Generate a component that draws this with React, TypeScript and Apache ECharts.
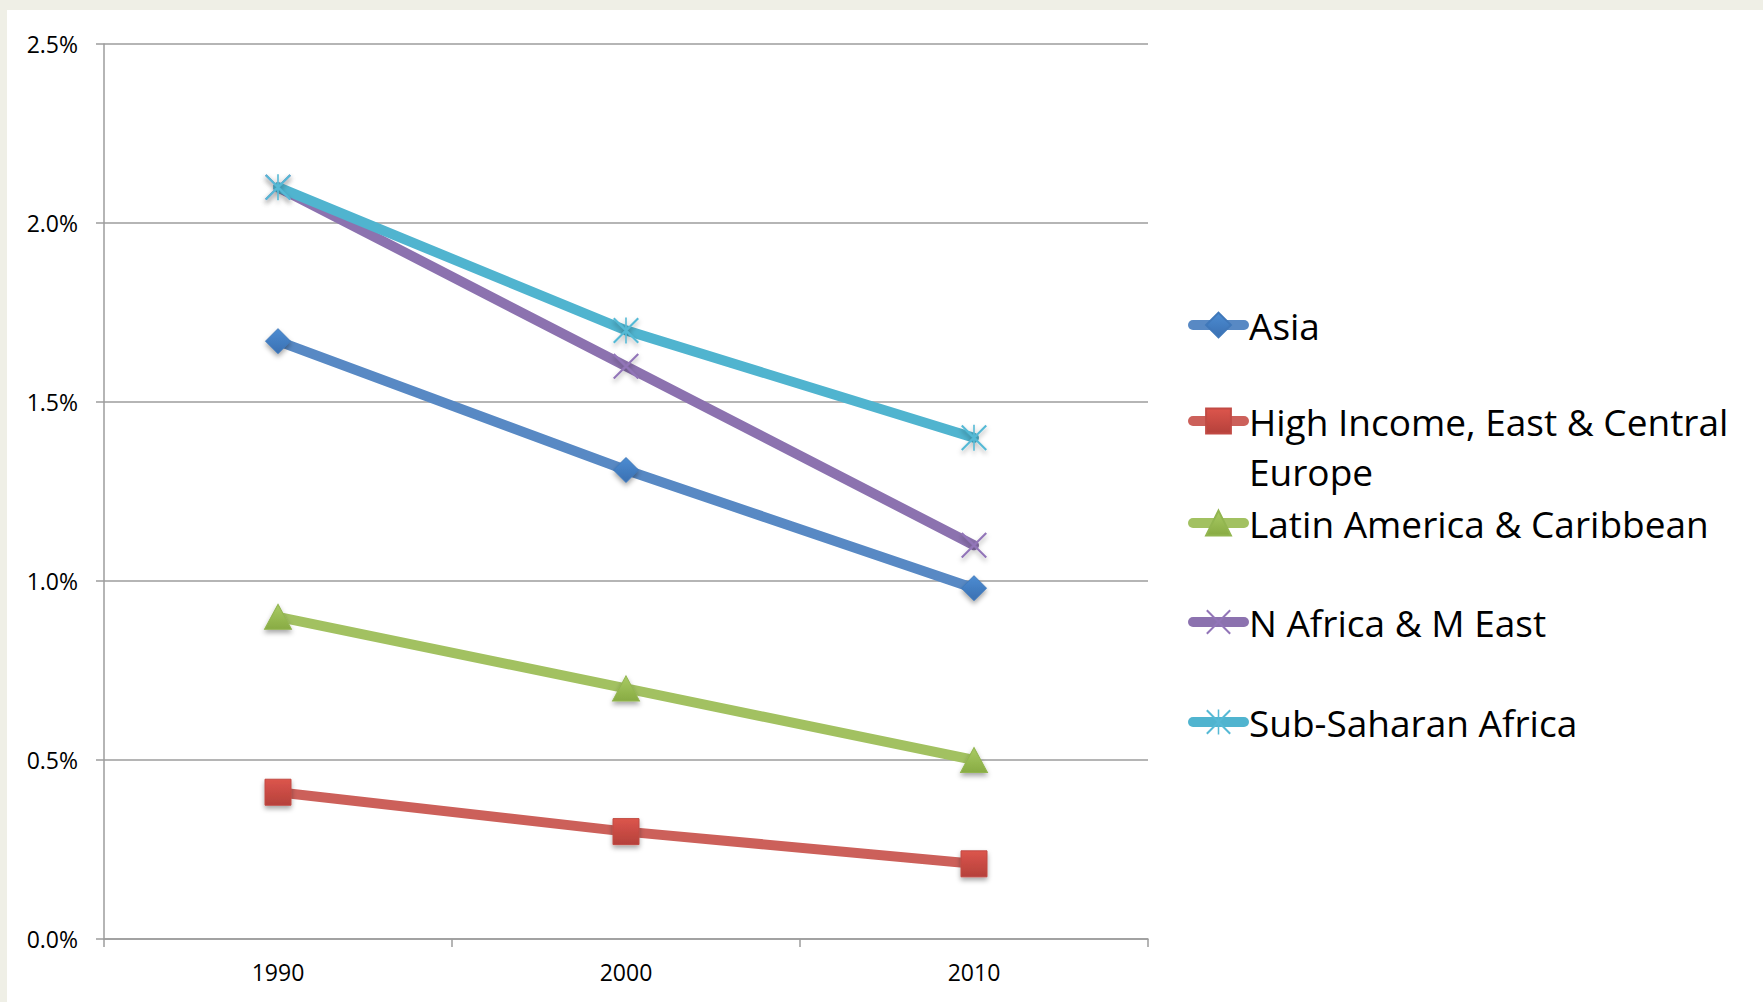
import React, { useEffect, useRef } from "react";
import * as echarts from "echarts";

// Annual rates by region, in percent
const years = ["1990", "2000", "2010"];
const seriesNames = [
  "Asia",
  "High Income, East & Central Europe",
  "Latin America & Caribbean",
  "N Africa & M East",
  "Sub-Saharan Africa",
];
const asia = [1.67, 1.31, 0.98];
const highIncomeEurope = [0.41, 0.3, 0.21];
const latinAmerica = [0.9, 0.7, 0.5];
const nAfricaMEast = [2.1, 1.6, 1.1];
const subSaharanAfrica = [2.1, 1.7, 1.4];
const yTickValues = [0, 0.5, 1.0, 1.5, 2.0, 2.5];

const FONT = "'Open Sans', 'Noto Sans', sans-serif";

// Thin-stroke marker shapes drawn as filled outlines
const crossSymbol =
  "path://M0,1.5L1.5,0L26,24.5L24.5,26Z M24.5,0L26,1.5L1.5,26L0,24.5Z";
const starSymbol =
  "path://M0,1.5L1.5,0L26,24.5L24.5,26Z M24.5,0L26,1.5L1.5,26L0,24.5Z M12.2,0L13.8,0L13.8,26L12.2,26Z";

const grad = (top: string, bottom: string) => ({
  type: "linear",
  x: 0,
  y: 0,
  x2: 0,
  y2: 1,
  colorStops: [
    { offset: 0, color: top },
    { offset: 1, color: bottom },
  ],
});

const markerShadow = {
  shadowBlur: 5,
  shadowColor: "rgba(0,0,0,0.35)",
  shadowOffsetX: 0,
  shadowOffsetY: 3,
};

const styles = [
  { line: "#5889C4", fill: grad("#4C8CD2", "#3A70B2"), border: "#3F78BA", symbol: "diamond", size: 25 },
  { line: "#CC605A", fill: grad("#DC554C", "#B5413B"), border: "#C14A44", symbol: "rect", size: 26 },
  { line: "#A2C161", fill: grad("#A9CB64", "#88AB43"), border: "#92B550", symbol: "triangle", size: [27, 25] },
  { line: "#8C72AF", fill: "#9275B8", border: "#9275B8", symbol: crossSymbol, size: 26 },
  { line: "#50B4CF", fill: "#55B9D5", border: "#55B9D5", symbol: starSymbol, size: 26 },
];

const values = [asia, highIncomeEurope, latinAmerica, nAfricaMEast, subSaharanAfrica];

// Legend row centres (px)
const legendCenters = [322, 421, 520, 619, 719];
const LEGEND_ITEM_H = 31;

export default function App() {
  const ref = useRef<HTMLDivElement>(null);

  useEffect(() => {
    if (!ref.current) return;
    const chart = echarts.init(ref.current, undefined, { renderer: "svg" });

    const series = seriesNames.map((name, i) => {
      const s = styles[i];
      const isOutline = i >= 3;
      return {
        name,
        type: "line",
        data: values[i],
        symbol: s.symbol,
        symbolSize: s.size,
        z: 2 + i,
        lineStyle: { color: s.line, width: 10, cap: "round", join: "round" },
        itemStyle: {
          color: s.fill,
          borderColor: s.border,
          borderWidth: isOutline ? 0 : 1,
          ...markerShadow,
        },
        emphasis: { disabled: true },
      };
    });

    const legends = seriesNames.map((name, i) => {
      const twoLine = i === 1;
      const lh = twoLine ? 50 : LEGEND_ITEM_H;
      // the wrapped entry carries a blank leading line so its first line sits beside the icon
      const top = twoLine
        ? legendCenters[i] - LEGEND_ITEM_H / 2 - ((lh * 3) / 2 - LEGEND_ITEM_H / 2)
        : legendCenters[i] - LEGEND_ITEM_H / 2;
      return {
        data: [name],
        orient: "vertical",
        left: 1188,
        top,
        padding: 0,
        itemWidth: 51,
        itemHeight: LEGEND_ITEM_H,
        selectedMode: false,
        lineStyle: { width: 10, cap: "round" },
        formatter: (n: string) =>
          n === "High Income, East & Central Europe"
            ? "\nHigh Income, East & Central\nEurope"
            : n,
        textStyle: {
          fontFamily: FONT,
          fontSize: 37,
          color: "#000",
          lineHeight: lh,
        },
      };
    });

    chart.setOption({
      animation: false,
      backgroundColor: "transparent",
      grid: { left: 104, top: 44, width: 1044, height: 895, containLabel: false },
      legend: legends,
      xAxis: {
        type: "category",
        data: years,
        boundaryGap: true,
        axisLine: { show: true, lineStyle: { color: "#9C9C9C", width: 1.5 } },
        axisTick: { show: true, length: 8, lineStyle: { color: "#9C9C9C", width: 1.5 } },
        axisLabel: { fontFamily: FONT, fontSize: 23, color: "#000", margin: 21 },
        splitLine: { show: false },
      },
      yAxis: {
        type: "value",
        min: yTickValues[0],
        max: yTickValues[yTickValues.length - 1],
        interval: yTickValues[1] - yTickValues[0],
        axisLine: { show: true, lineStyle: { color: "#9C9C9C", width: 1.5 } },
        axisTick: { show: true, length: 8, lineStyle: { color: "#9C9C9C", width: 1.5 } },
        axisLabel: {
          fontFamily: FONT,
          fontSize: 23,
          color: "#000",
          margin: 26,
          formatter: (v: number) => `${v.toFixed(1)}%`,
        },
        splitLine: { show: true, lineStyle: { color: "#9C9C9C", width: 1.5 } },
      },
      series,
    });

    return () => chart.dispose();
  }, []);

  return (
    <div
      style={{
        position: "fixed",
        left: 0,
        top: 0,
        width: 1763,
        height: 1002,
        background: "#EFEFE6",
      }}
    >
      <div
        style={{
          position: "absolute",
          left: 7,
          top: 10,
          right: 0,
          bottom: 0,
          background: "#FFFFFF",
        }}
      />
      <div
        ref={ref}
        style={{ position: "absolute", left: 0, top: 0, width: 1763, height: 1002 }}
      />
    </div>
  );
}
